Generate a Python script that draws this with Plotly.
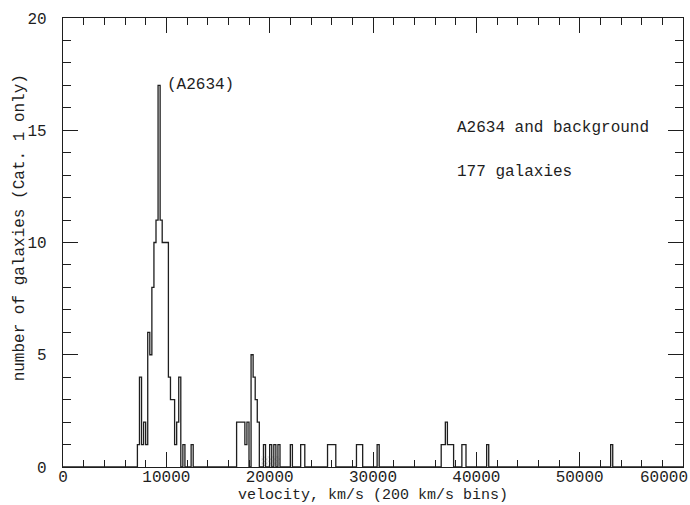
import numpy as np
import plotly.graph_objects as go

# Velocity histogram of A2634 and its background, 200 km/s bins
BIN_WIDTH = 200
V_MAX = 60000

# left edge of each occupied bin (km/s) and number of galaxies in it
velocity_bins = [
    7200, 7400, 7600, 7800, 8000, 8200, 8400, 8600, 8800, 9000,
    9200, 9400, 9600, 9800, 10000, 10200, 10400, 10600, 10800, 11000,
    11200, 11600, 12400,
    16800, 17000, 17200, 17400, 17600, 17800, 18200, 18400, 18600, 18800,
    19400, 20000, 20400, 20800, 22000, 23000, 23200,
    25600, 25800, 26000, 26200, 28400, 28600, 28800, 30400,
    36600, 36800, 37000, 37200, 37400, 37600, 38600, 38800, 41000, 53000,
]
galaxy_counts = [
    1, 4, 1, 2, 1, 6, 5, 8, 10, 11,
    17, 11, 10, 10, 10, 4, 3, 3, 1, 2,
    4, 1, 1,
    2, 2, 2, 2, 1, 2, 5, 4, 3, 2,
    1, 1, 1, 1, 1, 1, 1,
    1, 1, 1, 1, 1, 1, 1, 1,
    1, 1, 2, 1, 1, 1, 1, 1, 1, 1,
]

# shaded strip under the 19-21 thousand km/s group
shaded_bins = [19200, 19400, 19600, 19800, 20000, 20200, 20400, 20600, 20800]
shaded_level = [0.5, 0.5, 0.5, 0.5, 0.5, 0.5, 0.5, 0.5, 0.5]

x_ticks = [0, 10000, 20000, 30000, 40000, 50000, 60000]
x_tick_text = ["0", "10000", "20000", "30000", "40000", "50000", ""]
y_ticks = [0, 5, 10, 15, 20]

# full histogram on the 200 km/s grid, drawn as a step outline
edges = np.arange(0, V_MAX + BIN_WIDTH, BIN_WIDTH)
counts = np.zeros(len(edges) - 1)
for v, n in zip(velocity_bins, galaxy_counts):
    counts[v // BIN_WIDTH] = n
step_y = np.append(counts, counts[-1])

FONT = "Liberation Mono, Courier New, monospace"
INK = "#1e1e1e"

fig = go.Figure()

fig.add_trace(go.Bar(
    x=[b + BIN_WIDTH / 2 for b in shaded_bins],
    y=shaded_level,
    width=BIN_WIDTH,
    marker=dict(
        color="rgba(0,0,0,0)",
        line=dict(width=0),
        pattern=dict(shape="x", fgcolor="#8a8a8a", size=3, solidity=0.35),
    ),
    showlegend=False,
    hoverinfo="skip",
))

fig.add_trace(go.Scatter(
    x=edges,
    y=step_y,
    mode="lines",
    line=dict(shape="hv", color=INK, width=1.3),
    showlegend=False,
))

axis_common = dict(
    showline=True,
    linecolor=INK,
    linewidth=1.3,
    mirror="ticks",
    ticks="inside",
    ticklen=15,
    tickwidth=1.2,
    tickcolor=INK,
    showgrid=False,
    zeroline=False,
    tickfont=dict(family=FONT, size=16, color=INK),
)

fig.update_layout(
    width=690,
    height=505,
    margin=dict(l=63, r=7, t=18, b=38),
    plot_bgcolor="white",
    paper_bgcolor="white",
    font=dict(family=FONT, size=16, color=INK),
    xaxis=dict(
        range=[0, V_MAX],
        tickvals=x_ticks,
        ticktext=x_tick_text,
        ticklabelstandoff=-5,
        minor=dict(ticks="inside", ticklen=7, dtick=2000, tickcolor=INK, tickwidth=1),
        **axis_common,
    ),
    yaxis=dict(
        range=[0, 20],
        tickvals=y_ticks,
        ticklabelstandoff=12,
        minor=dict(ticks="inside", ticklen=8, dtick=1, tickcolor=INK, tickwidth=1),
        **axis_common,
    ),
    bargap=0,
    annotations=[
        dict(text="60000", xref="paper", yref="paper", x=1, y=0,
             xanchor="right", yanchor="top", xshift=7, yshift=0,
             showarrow=False, font=dict(family=FONT, size=16, color=INK)),
        dict(text="velocity, km/s (200 km/s bins)", xref="paper", yref="paper",
             x=0.5, y=-0.064, xanchor="center", yanchor="middle",
             showarrow=False, font=dict(family=FONT, size=15, color=INK)),
        dict(text="number of galaxies (Cat. 1 only)", xref="paper", yref="paper",
             x=-0.069, y=0.532, xanchor="center", yanchor="middle", textangle=-90,
             showarrow=False, font=dict(family=FONT, size=16, color=INK)),
        dict(text="(A2634)", x=9900, y=17.0, xanchor="left", yanchor="middle",
             showarrow=False, font=dict(family=FONT, size=16, color=INK)),
        dict(text="A2634 and background", xref="paper", yref="paper",
             x=0.632, y=0.755, xanchor="left", yanchor="middle",
             showarrow=False, font=dict(family=FONT, size=16, color=INK)),
        dict(text="177 galaxies", xref="paper", yref="paper",
             x=0.632, y=0.657, xanchor="left", yanchor="middle",
             showarrow=False, font=dict(family=FONT, size=16, color=INK)),
    ],
)

fig.write_html("out.html")
